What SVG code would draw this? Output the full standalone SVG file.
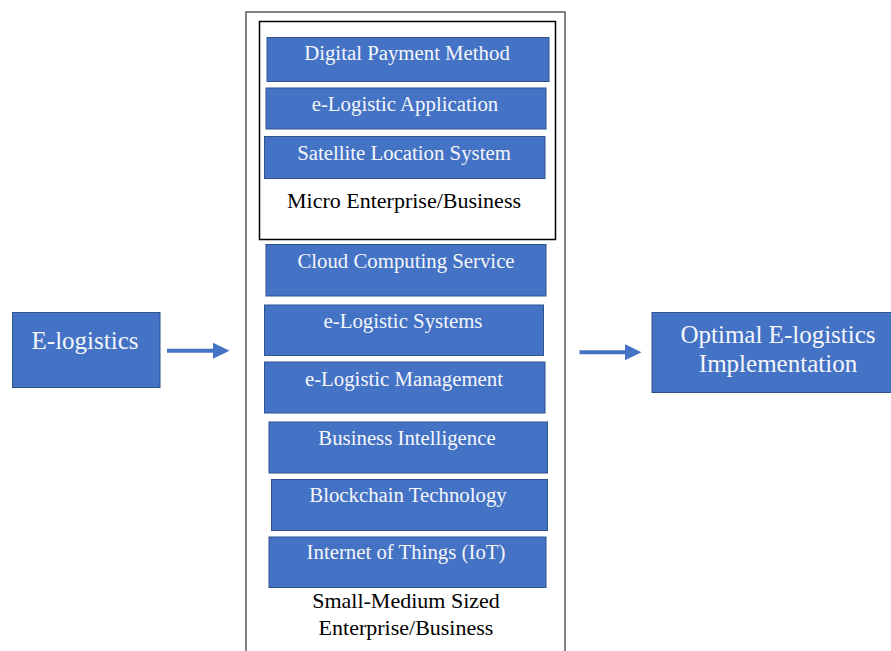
<svg xmlns="http://www.w3.org/2000/svg" width="891" height="651" viewBox="0 0 891 651">
<defs>
<style>
.b{fill:#4472C4;stroke:#2F528F;stroke-width:1}
.w{font-family:"Liberation Serif","Times New Roman",serif;fill:#F4F6FB;text-anchor:middle}
.k{font-family:"Liberation Serif","Times New Roman",serif;fill:#000000;text-anchor:middle}
.arr{fill:#4472C4}
</style>
</defs>
<rect width="891" height="651" fill="#FFFFFF"/>
<g id="container">
<rect x="246" y="12" width="319" height="660" fill="none" stroke="#404040" stroke-width="1.3"/>
</g>
<g id="micro">
<rect x="259.5" y="21.5" width="296" height="218" fill="none" stroke="#000000" stroke-width="1.5"/>
<text class="k" x="404" y="208" font-size="22">Micro Enterprise/Business</text>
</g>
<g id="n-digital"><rect class="b" x="267" y="37.5" width="282" height="44"/><text class="w" x="407" y="60" font-size="20.8">Digital Payment Method</text></g>
<g id="n-app"><rect class="b" x="266" y="88" width="280" height="41"/><text class="w" x="405" y="111" font-size="20.8">e-Logistic Application</text></g>
<g id="n-sat"><rect class="b" x="264.5" y="136.5" width="280.5" height="42"/><text class="w" x="404" y="160" font-size="20.8">Satellite Location System</text></g>
<g id="n-cloud"><rect class="b" x="266" y="244.5" width="280" height="51.5"/><text class="w" x="406" y="268" font-size="20.8">Cloud Computing Service</text></g>
<g id="n-sys"><rect class="b" x="264.5" y="305" width="279" height="50.5"/><text class="w" x="403" y="328" font-size="20.8">e-Logistic Systems</text></g>
<g id="n-mgmt"><rect class="b" x="264.5" y="362" width="280.5" height="51"/><text class="w" x="404" y="386" font-size="20.8">e-Logistic Management</text></g>
<g id="n-bi"><rect class="b" x="269" y="422" width="278.5" height="51"/><text class="w" x="407" y="445" font-size="20.8">Business Intelligence</text></g>
<g id="n-block"><rect class="b" x="271.5" y="479.5" width="276" height="51"/><text class="w" x="408" y="502" font-size="20.8">Blockchain Technology</text></g>
<g id="n-iot"><rect class="b" x="269" y="537" width="277" height="50.5"/><text class="w" x="406" y="559" font-size="20.8">Internet of Things (IoT)</text></g>
<g id="sme-label">
<text class="k" x="406" y="608" font-size="22">Small-Medium Sized</text>
<text class="k" x="406" y="635" font-size="22">Enterprise/Business</text>
</g>
<g id="n-elog"><rect class="b" x="12.5" y="312.5" width="147.5" height="75"/><text class="w" x="85" y="349" font-size="25">E-logistics</text></g>
<g id="n-opt"><rect class="b" x="652" y="312.5" width="250" height="80"/><text class="w" x="778" y="343" font-size="25">Optimal E-logistics</text><text class="w" x="778" y="372" font-size="25">Implementation</text></g>
<g id="connectors">
<path class="arr" d="M167,348.7 H213 V342.7 L229.5,350.7 L213,358.7 V352.7 H167 Z"/>
<path class="arr" d="M579.5,350.3 H625 V344.3 L641.5,352.3 L625,360.3 V354.3 H579.5 Z"/>
</g>
</svg>
